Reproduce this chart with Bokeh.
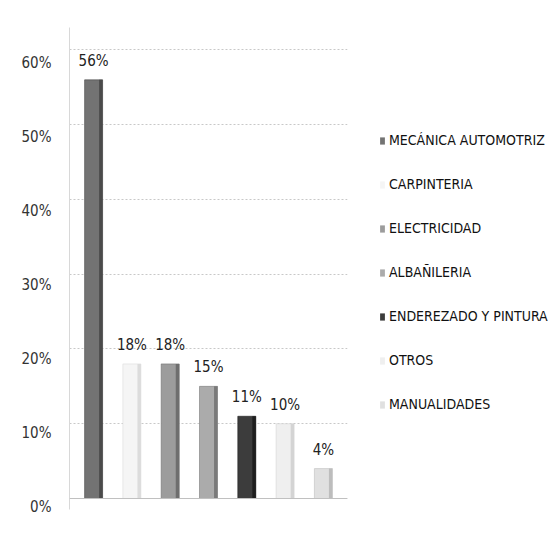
from bokeh.plotting import figure
from bokeh.layouts import row
from bokeh.models import (ColumnDataSource, FactorRange, Range1d, Legend, LegendItem,
                          NumeralTickFormatter, FixedTicker, Span, LinearAxis)
from bokeh.transform import dodge
from bokeh.embed import file_html
from bokeh.resources import INLINE
from bokeh.core.properties import value

# ---- data ----
categories = ["MECÁNICA AUTOMOTRIZ", "CARPINTERIA", "ELECTRICIDAD", "ALBAÑILERIA",
              "ENDEREZADO Y PINTURA", "OTROS", "MANUALIDADES"]
shares = [0.56, 0.18, 0.18, 0.15, 0.11, 0.10, 0.04]
share_labels = ["56%", "18%", "18%", "15%", "11%", "10%", "4%"]
y_ticks = [0, 0.1, 0.2, 0.3, 0.4, 0.5, 0.6]

# ---- styles ----
face_colors = ["#737373", "#f5f5f5", "#9c9c9c", "#ababab", "#3c3c3c", "#efefef", "#e0e0e0"]
side_colors = ["#4a4a4a", "#dcdcdc", "#6e6e6e", "#7a7a7a", "#1e1e1e", "#d4d4d4", "#bdbdbd"]
FONT = "DejaVu Sans Condensed"

src = ColumnDataSource(dict(cat=categories, val=shares, lab=share_labels,
                            face=face_colors, side=side_colors))

# ---- chart ----
p = figure(width=355, height=523, output_backend="svg", toolbar_location=None,
           x_range=FactorRange(factors=categories, range_padding=0.037),
           y_range=Range1d(-0.0147, 0.63),
           min_border_left=69, min_border_right=8, min_border_top=27, min_border_bottom=14)
p.outline_line_color = None
# tick labels sit slightly below their gridlines (as in the 3-D original)
p.extra_y_ranges = {"labels": Range1d(-0.00405, 0.6473)}

p.vbar(x="cat", top="val", width=0.47, source=src, fill_color="face",
       line_color="side", line_width=0.6)
p.vbar(x=dodge("cat", 0.19, range=p.x_range), top="val", width=0.09, source=src,
       fill_color="side", line_color=None)

p.text(x="cat", y="val", text="lab", source=src, text_align="center",
       text_baseline="bottom", y_offset=-10, text_font=value(FONT),
       text_font_size="15px", text_color="#222222")

p.xaxis.visible = False
p.yaxis.visible = False
p.add_layout(Span(location=0, dimension="width", line_color="#c0c0c0", line_width=1))

yax = LinearAxis(y_range_name="labels", ticker=FixedTicker(ticks=y_ticks),
                 formatter=NumeralTickFormatter(format="0%"))
yax.major_tick_line_color = None
yax.minor_tick_line_color = None
yax.axis_line_color = "#d8d8d8"
yax.major_label_text_font = FONT
yax.major_label_text_font_size = "15px"
yax.major_label_text_color = "#333333"
yax.major_label_standoff = 12
p.add_layout(yax, "left")

p.xgrid.grid_line_color = None
p.ygrid.ticker = FixedTicker(ticks=y_ticks)
p.ygrid.grid_line_color = "#c8c8c8"
p.ygrid.grid_line_dash = "2 2"
p.ygrid.grid_line_width = 1

# ---- legend panel ----
q = figure(width=195, height=523, output_backend="svg", toolbar_location=None,
           x_range=FactorRange(factors=categories), y_range=Range1d(1, 2),
           min_border_left=0, min_border_right=0, min_border_top=0, min_border_bottom=0)
q.axis.visible = False
q.grid.visible = False
q.outline_line_color = None
legend_bars = q.vbar(x="cat", top="val", width=0.5, source=src, fill_color="face",
                     line_color=None)
legend_bars.visible = False

legend = Legend(items=[LegendItem(label=c, renderers=[legend_bars], index=i)
                       for i, c in enumerate(categories)],
                location=(24, 95), border_line_color=None, background_fill_alpha=0,
                padding=0, margin=0, spacing=24, label_height=20, glyph_width=6,
                glyph_height=9, label_standoff=4, label_text_font=FONT,
                label_text_font_size="14px", label_text_color="#111111")
q.add_layout(legend)

layout = row(p, q)
open("out.html", "w").write(file_html(layout, INLINE))
